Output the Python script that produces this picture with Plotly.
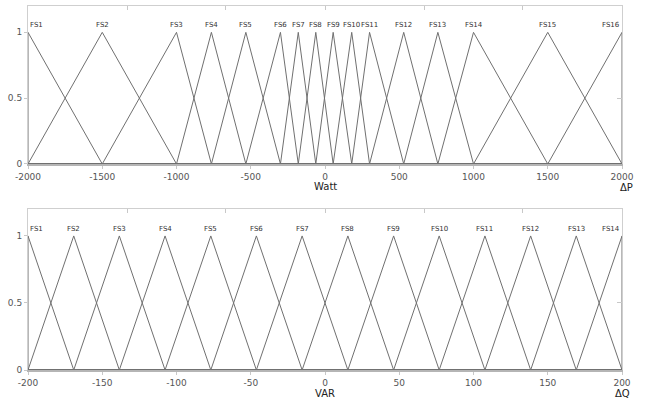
import plotly.graph_objects as go

# ---- data ----
p_centers = [-2000, -1500, -1000, -765, -533, -300, -180, -62, 55, 180, 300, 530, 760, 1000, 1500, 2000]
p_labels = ["FS%d" % (i + 1) for i in range(16)]
p_ticks = [-2000, -1500, -1000, -500, 0, 500, 1000, 1500, 2000]
p_ticktext = ["-2000", "-1500", "-1000", "-500", "0", "500", "1000", "1500", "2000"]
p_top_ticks = [-1333, -667, 0, 667, 1333]

q_centers = [-200, -169.2, -138.5, -107.7, -76.9, -46.2, -15.4, 15.4, 46.2, 76.9, 107.7, 138.5, 169.2, 200]
q_labels = ["FS%d" % (i + 1) for i in range(14)]
q_ticks = [-200, -150, -100, -50, 0, 50, 100, 150, 200]
q_ticktext = ["-200", "-150", "-100", "-50", "0", "50", "100", "150", "200"]
q_top_ticks = [-133.3, -66.7, 0, 66.7, 133.3]

y_ticks = [0, 0.5, 1]
y_ticktext = ["0", "0.5", "1"]

LINE = "#707070"
FONT = "DejaVu Sans"

fig = go.Figure()


def add_mfs(centers, xa, ya):
    lo, hi = centers[0], centers[-1]
    n = len(centers)
    for i, c in enumerate(centers):
        a = centers[i - 1] if i > 0 else c
        b = centers[i + 1] if i < n - 1 else c
        xs = [lo, a, c, b, hi]
        ys = [0, 0, 1, 0, 0]
        fig.add_trace(go.Scatter(x=xs, y=ys, mode="lines", xaxis=xa, yaxis=ya,
                                 line=dict(color=LINE, width=1), showlegend=False,
                                 hoverinfo="skip", cliponaxis=False))


add_mfs(p_centers, "x", "y")
add_mfs(q_centers, "x2", "y2")

# invisible traces to anchor overlay axes
for xa, ya in [("x3", "y"), ("x", "y3"), ("x4", "y2"), ("x2", "y4")]:
    fig.add_trace(go.Scatter(x=[None], y=[None], xaxis=xa, yaxis=ya, showlegend=False,
                             hoverinfo="skip"))

annotations = []


def add_labels(centers, labels, xr, yr):
    n = len(centers)
    for i, (c, t) in enumerate(zip(centers, labels)):
        anchor = "left" if i == 0 else ("right" if i == n - 1 else "center")
        annotations.append(dict(x=c, y=1, xref=xr, yref=yr, text=t, showarrow=False,
                                xanchor=anchor, yanchor="bottom", yshift=1,
                                font=dict(family=FONT, size=7, color="#333")))


add_labels(p_centers, p_labels, "x", "y")
add_labels(q_centers, q_labels, "x2", "y2")

title_font = dict(family=FONT, size=10, color="#222")
annotations += [
    dict(x=0, y=0, xref="x", yref="y", text="Watt", showarrow=False, yshift=-23,
         xanchor="center", yanchor="middle", font=title_font),
    dict(x=2000, y=0, xref="x", yref="y", text="ΔP", showarrow=False, yshift=-24,
         xshift=4, xanchor="center", yanchor="middle", font=title_font),
    dict(x=0, y=0, xref="x2", yref="y2", text="VAR", showarrow=False, yshift=-23,
         xanchor="center", yanchor="middle", font=title_font),
    dict(x=200, y=0, xref="x2", yref="y2", text="ΔQ", showarrow=False, yshift=-23,
         xanchor="center", yanchor="middle", font=title_font),
]

tickfont = dict(family=FONT, size=9, color="#555")

xcommon = dict(showgrid=False, zeroline=False, showline=True, linecolor="#b5b5b5",
               linewidth=2, ticks="outside", ticklen=3, tickcolor="#c8c8c8",
               tickfont=tickfont, automargin=False)
ycommon = dict(range=[0, 1.2], showgrid=False, zeroline=False, showline=True,
               linecolor="#cfcfcf", linewidth=1, ticks="outside", ticklen=3,
               tickcolor="#c8c8c8", tickvals=y_ticks, ticktext=y_ticktext,
               tickfont=tickfont, automargin=False)
top_common = dict(side="top", showgrid=False, zeroline=False, showline=True,
                  linecolor="#cfcfcf", linewidth=1, ticks="inside", ticklen=4,
                  tickcolor="#c8c8c8", showticklabels=False, automargin=False)
right_common = dict(side="right", range=[0, 1.2], showgrid=False, zeroline=False,
                    showline=True, linecolor="#cfcfcf", linewidth=1, ticks="inside",
                    ticklen=5, tickcolor="#c8c8c8", showticklabels=False,
                    tickvals=[0.5], automargin=False)

top_dom = [0.566, 1.0]
bot_dom = [0.0, 0.442]

fig.update_layout(
    width=650, height=400,
    margin=dict(l=28, r=28, t=6, b=30, autoexpand=False),
    paper_bgcolor="white", plot_bgcolor="white",
    showlegend=False,
    xaxis=dict(range=[-2000, 2000], anchor="y", tickvals=p_ticks, ticktext=p_ticktext,
               **xcommon),
    yaxis=dict(domain=top_dom, anchor="x", **ycommon),
    xaxis2=dict(range=[-200, 200], anchor="y2", tickvals=q_ticks, ticktext=q_ticktext,
                **xcommon),
    yaxis2=dict(domain=bot_dom, anchor="x2", **ycommon),
    xaxis3=dict(range=[-2000, 2000], overlaying="x", anchor="y", tickvals=p_top_ticks,
                **top_common),
    yaxis3=dict(overlaying="y", anchor="x", **right_common),
    xaxis4=dict(range=[-200, 200], overlaying="x2", anchor="y2", tickvals=q_top_ticks,
                **top_common),
    yaxis4=dict(overlaying="y2", anchor="x2", **right_common),
    annotations=annotations,
)

fig.write_html("out.html", config={"displayModeBar": False},
               post_script="document.body.style.margin='0';document.body.style.overflow='hidden';")
